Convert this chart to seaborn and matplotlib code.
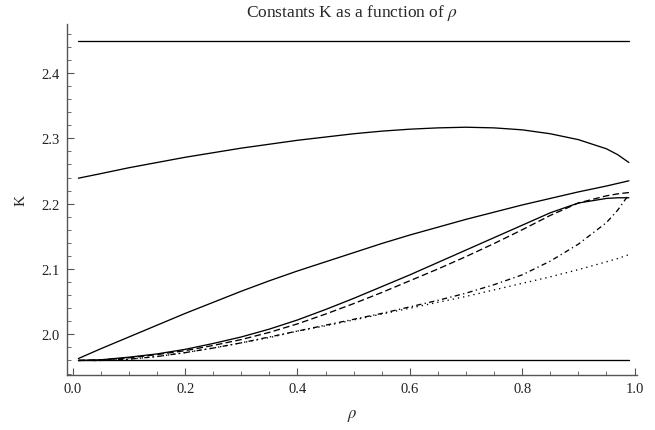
import numpy as np
import pandas as pd
import matplotlib
matplotlib.use("Agg")
import matplotlib.pyplot as plt
import seaborn as sns
from matplotlib.ticker import MultipleLocator, FormatStrFormatter

# ==================================================
# DATA
# ==================================================

rho = [0.01, 0.05, 0.1, 0.15, 0.2, 0.25, 0.3, 0.35, 0.4, 0.45, 0.5,
       0.55, 0.6, 0.65, 0.7, 0.75, 0.8, 0.85, 0.9, 0.95, 0.97, 0.99]

rho_ends = [0.01, 0.99]
k_upper_bound = [2.449, 2.449]
k_lower_bound = [1.96, 1.96]

k_arch = [2.239, 2.246, 2.255, 2.263, 2.271, 2.278, 2.285, 2.291, 2.297, 2.302, 2.307,
          2.311, 2.314, 2.316, 2.317, 2.316, 2.313, 2.307, 2.298, 2.284, 2.275, 2.263]

k_upper_solid = [1.963, 1.978, 1.996, 2.014, 2.032, 2.049, 2.066, 2.082, 2.097, 2.111, 2.125,
                 2.139, 2.152, 2.164, 2.176, 2.187, 2.198, 2.208, 2.218, 2.227, 2.231, 2.235]

k_lower_solid = [1.960, 1.961, 1.965, 1.970, 1.977, 1.986, 1.996, 2.008, 2.022, 2.038, 2.055,
                 2.073, 2.091, 2.110, 2.129, 2.148, 2.167, 2.186, 2.201, 2.208, 2.209, 2.209]

k_dashed = [1.960, 1.961, 1.964, 1.969, 1.975, 1.983, 1.992, 2.003, 2.016, 2.031, 2.047,
            2.064, 2.082, 2.100, 2.119, 2.139, 2.160, 2.182, 2.201, 2.212, 2.215, 2.217]

k_dashdot = [1.960, 1.960, 1.962, 1.966, 1.972, 1.979, 1.987, 1.996, 2.005, 2.014, 2.023,
             2.032, 2.042, 2.052, 2.063, 2.076, 2.091, 2.112, 2.138, 2.171, 2.190, 2.214]

k_dotted = [1.960, 1.960, 1.962, 1.966, 1.972, 1.979, 1.987, 1.995, 2.005, 2.013, 2.022,
            2.031, 2.040, 2.049, 2.058, 2.068, 2.078, 2.088, 2.099, 2.111, 2.116, 2.122]

# ==================================================
# STYLING
# ==================================================

sns.set_theme(style="ticks")
plt.rcParams["font.family"] = ["Liberation Serif", "DejaVu Serif"]
plt.rcParams["mathtext.fontset"] = "stix"
plt.rcParams["axes.edgecolor"] = "#555555"
plt.rcParams["axes.linewidth"] = 1.0

fig = plt.figure(figsize=(6.55, 4.31), dpi=100)
ax = fig.add_axes([0.102, 0.128, 0.871, 0.814])

line_kw = dict(color="black", linewidth=0.95, ax=ax)

sns.lineplot(x=rho_ends, y=k_upper_bound, **line_kw)
sns.lineplot(x=rho_ends, y=k_lower_bound, **line_kw)
sns.lineplot(x=rho, y=k_arch, **line_kw)
sns.lineplot(x=rho, y=k_upper_solid, **line_kw)
sns.lineplot(x=rho, y=k_lower_solid, **line_kw)
sns.lineplot(x=rho, y=k_dashed, linestyle=(0, (5, 2.5)), **line_kw)
sns.lineplot(x=rho, y=k_dashdot, linestyle=(0, (4, 2.5, 1, 2.5)), **line_kw)
sns.lineplot(x=rho, y=k_dotted, linestyle=(0, (1, 3)), **line_kw)

ax.set_xlim(-0.0107, 1.005)
ax.set_ylim(1.938, 2.475)

ax.xaxis.set_major_locator(MultipleLocator(0.2))
ax.xaxis.set_minor_locator(MultipleLocator(0.05))
ax.yaxis.set_major_locator(MultipleLocator(0.1))
ax.yaxis.set_minor_locator(MultipleLocator(0.02))
ax.xaxis.set_major_formatter(FormatStrFormatter("%.1f"))
ax.yaxis.set_major_formatter(FormatStrFormatter("%.1f"))

ax.tick_params(which="major", direction="in", length=5, width=0.8,
               color="#555555", labelsize=10.5, labelcolor="#222222", pad=5)
ax.tick_params(which="minor", direction="in", length=3, width=0.6, color="#555555")

sns.despine(ax=ax)

ax.set_title(r"Constants K as a function of $\rho$", fontsize=12.5, pad=6)
ax.set_xlabel(r"$\rho$", fontsize=12, labelpad=9)
ax.set_ylabel("K", fontsize=11, labelpad=10)

plt.savefig("out.png", dpi=100)
